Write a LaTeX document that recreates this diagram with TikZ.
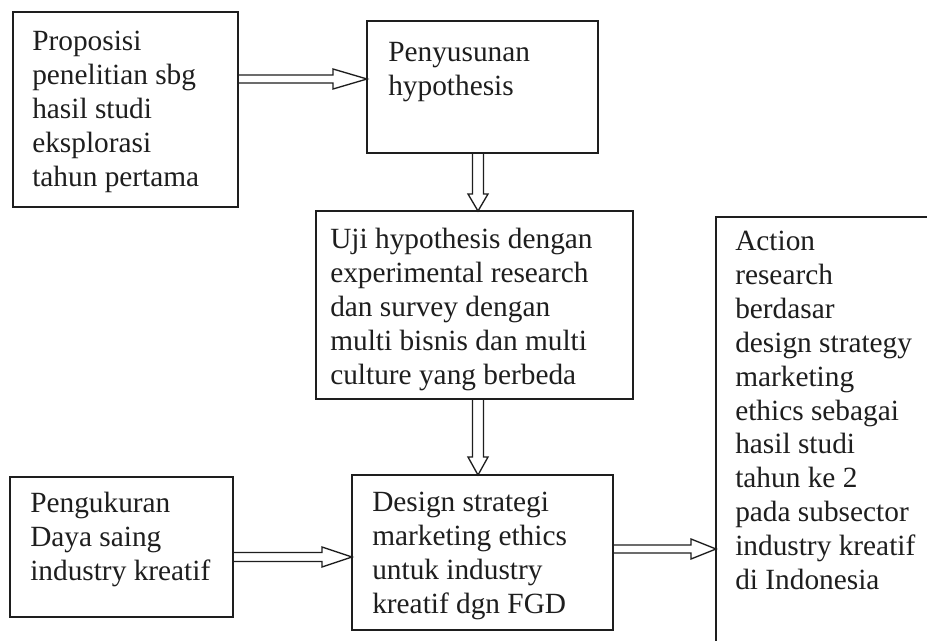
\documentclass[tikz,border=0pt]{standalone}
\usepackage{fontspec}
\setmainfont{Liberation Serif}
\usetikzlibrary{calc}
\definecolor{ink}{HTML}{1E1E1E}
\newcommand\pxu{0.75pt}
\newcommand\harr[5]{\draw[barrow] ($(#1)+(0,-#3)$) -- ($(#2)+(-#4,-#3)$) -- ($(#2)+(-#4,-#5)$) -- (#2) -- ($(#2)+(-#4,#5)$) -- ($(#2)+(-#4,#3)$) -- ($(#1)+(0,#3)$);}
\newcommand\varr[5]{\draw[barrow] ($(#1)+(-#3,0)$) -- ($(#2)+(-#3,-#4)$) -- ($(#2)+(-#5,-#4)$) -- (#2) -- ($(#2)+(#5,-#4)$) -- ($(#2)+(#3,-#4)$) -- ($(#1)+(#3,0)$);}
\begin{document}
\begin{tikzpicture}[x=0.75pt,y=-0.75pt,
  box/.style={draw=ink,line width=1.3pt,rectangle,inner sep=0pt,outer sep=0pt,anchor=north west},
  txt/.style={anchor=north west,inner sep=0pt,align=left,text=ink,font=\fontsize{22pt}{25.4pt}\selectfont},
  barrow/.style={draw=ink,line width=1pt,line join=miter}]
\useasboundingbox (0,0) rectangle (927,640);
\clip (0,0) rectangle (927,640);
\fill[white] (0,0) rectangle (927,640);
% boxes
\node[box,minimum width={225*\pxu},minimum height={195*\pxu}] (b1) at (13,12) {};
\node[box,minimum width={231*\pxu},minimum height={132*\pxu}] (b2) at (367,21) {};
\node[box,minimum width={317*\pxu},minimum height={188*\pxu}] (b3) at (316,211) {};
\node[box,minimum width={223*\pxu},minimum height={140*\pxu}] (b4) at (10,477) {};
\node[box,minimum width={261*\pxu},minimum height={155*\pxu}] (b5) at (352,475) {};
\node[box,minimum width={230*\pxu},minimum height={450*\pxu}] (b6) at (716,217) {};
% texts
\node[txt] (t1) at (32,31) {Proposisi\\penelitian sbg\\hasil studi\\eksplorasi\\tahun pertama};
\node[txt] (t2) at (388,42) {Penyusunan\\hypothesis};
\node[txt] (t3) at (330,228) {Uji hypothesis dengan\\experimental research\\dan survey dengan\\multi bisnis dan multi\\culture yang berbeda};
\node[txt] (t4) at (30,492) {Pengukuran\\Daya saing\\industry kreatif};
\node[txt] (t5) at (372,492) {Design strategi\\marketing ethics\\untuk industry\\kreatif dgn FGD};
\node[txt] (t6) at (735,231) {Action\\research\\berdasar\\design strategy\\marketing\\ethics sebagai\\hasil studi\\tahun ke 2\\pada subsector\\industry kreatif\\di Indonesia};
% connector end points
\coordinate (a1s) at (b1.east |- 0,79);
\coordinate (a1e) at (b2.west |- 0,79);
\coordinate (a2s) at (b2.south -| 478,0);
\coordinate (a2e) at (b3.north -| 478,0);
\coordinate (a3s) at (b3.south -| 478,0);
\coordinate (a3e) at (b5.north -| 478,0);
\coordinate (a4s) at (b4.east |- 0,557);
\coordinate (a4e) at (b5.west |- 0,557);
\coordinate (a5s) at (b5.east |- 0,549);
\coordinate (a5e) at (b6.west |- 0,549);
% connectors
\harr{a1s}{a1e}{4}{34}{10}
\varr{a2s}{a2e}{5.5}{17}{10}
\varr{a3s}{a3e}{5.5}{18}{10}
\harr{a4s}{a4e}{4.5}{30}{10}
\harr{a5s}{a5e}{4}{25}{10}
\end{tikzpicture}
\end{document}
